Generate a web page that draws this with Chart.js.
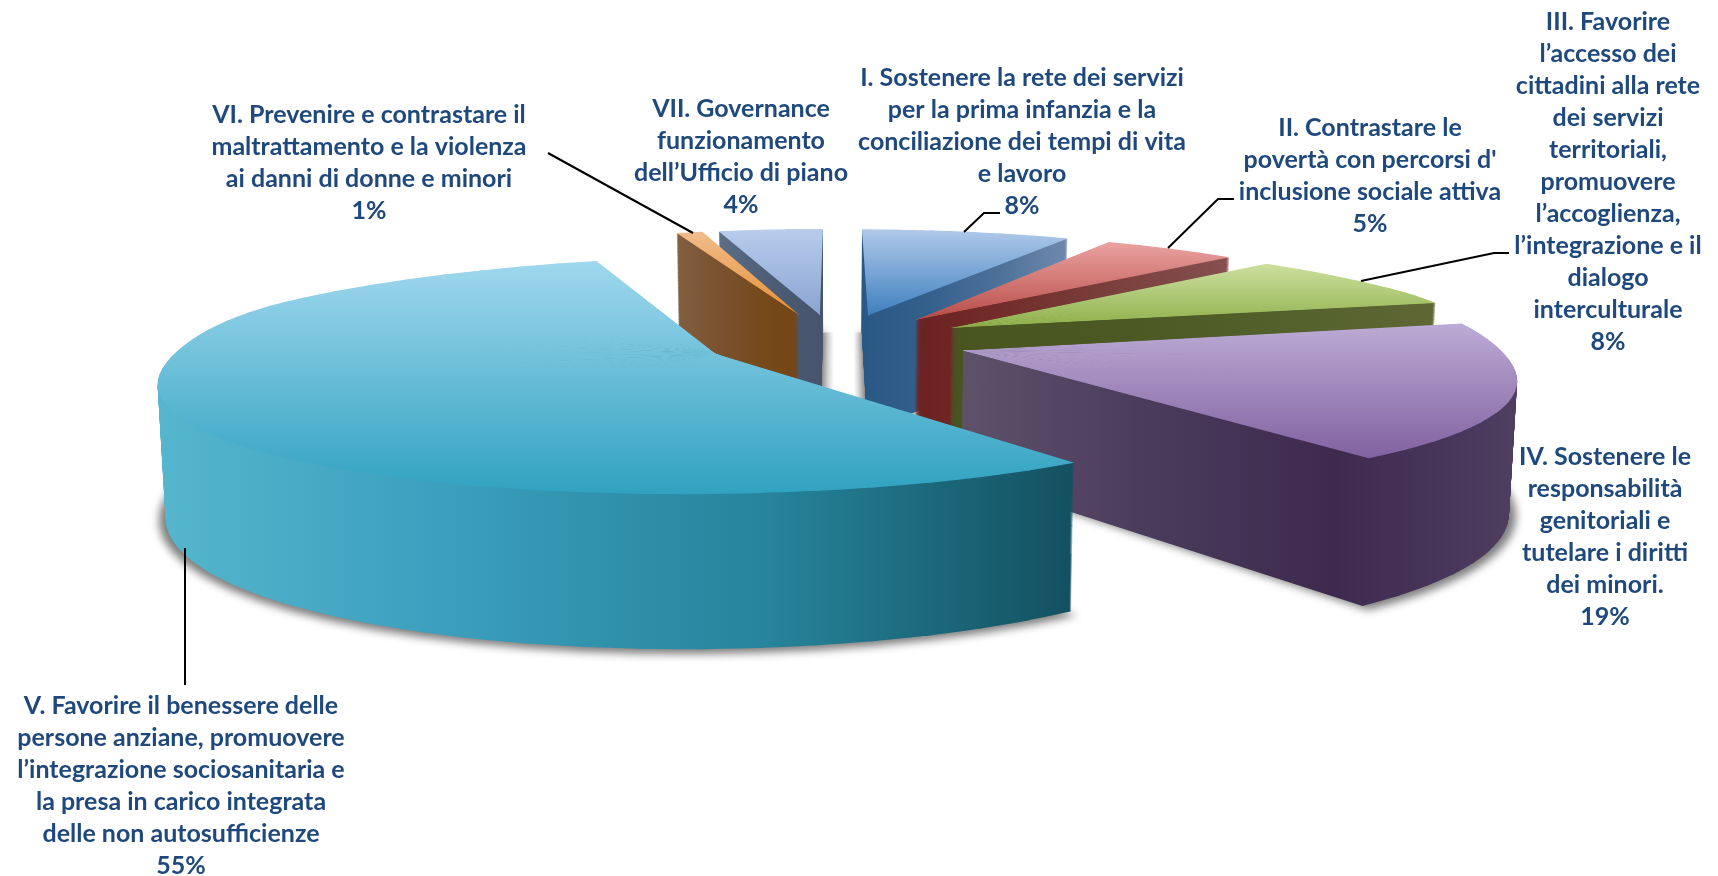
<!DOCTYPE html>
<html>
<head>
<meta charset="utf-8">
<script src="https://cdn.jsdelivr.net/npm/chart.js"></script>
<style>
html, body { margin: 0; padding: 0; background: #fff; }
canvas { display: block; }
</style>
</head>
<body>
<canvas id="c" width="1718" height="876"></canvas>
<script>
const categories = [
  ['I. Sostenere la rete dei servizi', 'per la prima infanzia e la', 'conciliazione dei tempi di vita', 'e lavoro'],
  ['II. Contrastare le', 'povertà con percorsi d\'', 'inclusione sociale attiva'],
  ['III. Favorire', 'l’accesso dei', 'cittadini alla rete', 'dei servizi', 'territoriali,', 'promuovere', 'l’accoglienza,', 'l’integrazione e il', 'dialogo', 'interculturale'],
  ['IV. Sostenere le', 'responsabilità', 'genitoriali e', 'tutelare i diritti', 'dei minori.'],
  ['V. Favorire il benessere delle', 'persone anziane, promuovere', 'l’integrazione sociosanitaria e', 'la presa in carico integrata', 'delle non autosufficienze'],
  ['VI. Prevenire e contrastare il', 'maltrattamento e la violenza', 'ai danni di donne e minori'],
  ['VII. Governance', 'funzionamento', 'dell’Ufficio di piano']
];
const values = [8, 5, 8, 19, 55, 1, 4];

// colori: faccia superiore (alto -> basso) e parete (sinistra -> destra)
const topColors = [
  ['#b0c9ea', '#3f80bf'],
  ['#eaa3a1', '#b94c48'],
  ['#cde0a0', '#8db04a'],
  ['#bdabd5', '#8062a0'],
  ['#a0d8ee', '#30a2c0'],
  ['#f2bc8c', '#e58f33'],
  ['#b8cdec', '#8aa4d2']
];
const wallColors = [
  ['#2a5884', '#34608c', '#4d7199', '#7089ad'],
  ['#6c2120', '#73302c', '#7b423f', '#85504f'],
  ['#485520', '#4b5824', '#52602c', '#5f6735'],
  ['#5e5169', '#4a3b5c', '#3e2a4f', '#4e3e60'],
  ['#55b6cd', '#3a9dbb', '#26849b', '#135060'],
  ['#805f40', '#7a5230', '#764a1c', '#744514'],
  ['#5c6e87', '#52627c', '#4a5972', '#46546c']
];

// posizione etichette: centro x, y prima riga
const labelPos = [[1022, 77.5], [1370, 127.5], [1608, 21.5], [1605, 456.5], [181, 705.5], [369, 114.5], [741, 108.5]];
const lineGap = 32;
const leaders = [
  [[1000, 213], [984, 213], [964, 232]],
  [[1234, 199], [1218, 199], [1168, 248]],
  [[1509, 253], [1494, 253], [1361, 281]],
  [[185, 685], [185, 548]],
  [[548, 153], [693, 233]]
];

// proiezione prospettica del piano della torta
const CX = 836, CY = 341, SX = 526, SY = 110, KX = 0.21, KY = 0.18, DEPTH = 124, SHRINK = 0.012, EXPLODE = 0.25;
const LAYERS = 150;
function proj(x, y, z) {
  // piccolo allargamento sul fianco destro/sinistro dietro, come nell'originale
  const bump = 1 + 0.035 * Math.exp(-Math.pow((y + 0.4) / 0.35, 2));
  return [
    CX + SX * x * bump / ((1 - KX * y) * (1 + SHRINK * z)),
    CY + (SY * y + DEPTH * z) / (1 - KY * y)
  ];
}

function affine(s, t) {
  const u1x = s[1][0] - s[0][0], u1y = s[1][1] - s[0][1], u2x = s[2][0] - s[0][0], u2y = s[2][1] - s[0][1];
  const v1x = t[1][0] - t[0][0], v1y = t[1][1] - t[0][1], v2x = t[2][0] - t[0][0], v2y = t[2][1] - t[0][1];
  const det = u1x * u2y - u2x * u1y;
  const a = (v1x * u2y - v2x * u1y) / det, c = (v2x * u1x - v1x * u2x) / det;
  const b = (v1y * u2y - v2y * u1y) / det, d = (v2y * u1x - v1y * u2x) / det;
  return [a, b, c, d, t[0][0] - a * s[0][0] - c * s[0][1], t[0][1] - b * s[0][0] - d * s[0][1]];
}

// gradiente lineare in coordinate schermo, anche sotto la trasformazione m
function screenGrad(ctx, m, horizontal, v0, v1, colors) {
  const p = horizontal ? m[0] : m[1], q = horizontal ? m[2] : m[3], r = horizontal ? m[4] : m[5];
  const n = p * p + q * q;
  const x0 = (v0 - r) * p / n, y0 = (v0 - r) * q / n;
  const g = ctx.createLinearGradient(x0, y0, x0 + (v1 - v0) * p / n, y0 + (v1 - v0) * q / n);
  colors.forEach((col, i) => g.addColorStop(i / (colors.length - 1), col));
  return g;
}

function sliceInfo(arc) {
  const mid = (arc.startAngle + arc.endAngle) / 2;
  const ex = EXPLODE * Math.cos(mid), ey = EXPLODE * Math.sin(mid);
  const apex = proj(ex, ey, 0);
  const pts = [apex];
  const rim = [];
  for (let i = 0; i <= 40; i++) {
    const a = arc.startAngle + (arc.endAngle - arc.startAngle) * i / 40;
    rim.push([ex + Math.cos(a), ey + Math.sin(a)]);
    pts.push(proj(ex + Math.cos(a), ey + Math.sin(a), 0));
  }
  const xs = pts.map(p => p[0]), ys = pts.map(p => p[1]);
  return { ex, ey, rim, apex, minX: Math.min(...xs), maxX: Math.max(...xs), minY: Math.min(...ys), maxY: Math.max(...ys) };
}

function drawLayer(ctx, arc, info, z, colors, horizontal) {
  const R = arc.outerRadius, step = Math.PI / 36;
  const n = Math.max(1, Math.ceil((arc.endAngle - arc.startAngle) / step));
  const saved = arc.options;
  for (let i = 0; i < n; i++) {
    const b0 = arc.startAngle + (arc.endAngle - arc.startAngle) * i / n;
    const b1 = arc.startAngle + (arc.endAngle - arc.startAngle) * (i + 1) / n;
    const bm = (b0 + b1) / 2;
    const m = affine(
      [[arc.x, arc.y], [arc.x + R * Math.cos(b0), arc.y + R * Math.sin(b0)], [arc.x + R * Math.cos(b1), arc.y + R * Math.sin(b1)]],
      [proj(info.ex, info.ey, z), proj(info.ex + Math.cos(b0), info.ey + Math.sin(b0), z), proj(info.ex + Math.cos(b1), info.ey + Math.sin(b1), z)]
    );
    ctx.save();
    ctx.setTransform(m[0], m[1], m[2], m[3], m[4], m[5]);
    ctx.beginPath();
    // il cuneo parte un po' dietro al centro, cosi' non restano fili vicino all'apice
    ctx.moveTo(arc.x - 0.02 * R * Math.cos(bm), arc.y - 0.02 * R * Math.sin(bm));
    ctx.lineTo(arc.x + 1.2 * R * Math.cos(b0 - 0.006), arc.y + 1.2 * R * Math.sin(b0 - 0.006));
    ctx.lineTo(arc.x + 1.2 * R * Math.cos(b1 + 0.006), arc.y + 1.2 * R * Math.sin(b1 + 0.006));
    ctx.closePath();
    ctx.clip();
    const fill = horizontal
      ? screenGrad(ctx, m, true, info.minX, info.maxX, colors)
      : screenGrad(ctx, m, false, info.minY, info.maxY, colors);
    arc.options = Object.assign({}, saved, { backgroundColor: fill, borderWidth: 0 });
    arc.draw(ctx);
    ctx.restore();
  }
  arc.options = saved;
}

function drawShadow(ctx, info) {
  ctx.save();
  ctx.filter = 'blur(4px)';
  ctx.fillStyle = 'rgba(40,40,40,0.6)';
  ctx.beginPath();
  const c = proj(info.ex, info.ey, 1);
  ctx.moveTo(c[0], c[1]);
  info.rim.forEach(r => {
    const p = proj(info.ex + (r[0] - info.ex) * 1.012, info.ey + (r[1] - info.ey) * 1.012, 1.015);
    ctx.lineTo(p[0], p[1]);
  });
  ctx.closePath();
  ctx.fill();
  ctx.restore();
}

// ombra grigia nella fessura fra la prima e l'ultima fetta
function drawGap(ctx, first, last) {
  const x0 = last.apex[0], x1 = first.apex[0], y0 = first.apex[1] + 17;
  const g = ctx.createLinearGradient(x0, 0, x1, 0);
  g.addColorStop(0, '#a8a8a8');
  g.addColorStop(0.3, '#ffffff');
  g.addColorStop(0.7, '#ffffff');
  g.addColorStop(1, '#a0a0a0');
  ctx.fillStyle = g;
  ctx.fillRect(x0, y0, x1 - x0, 90);
}

const pie3d = {
  id: 'pie3d',
  beforeDatasetDraw(chart, args) {
    const ctx = chart.ctx;
    const arcs = args.meta.data.map((arc, i) => ({ arc, i, info: sliceInfo(arc), mid: (arc.startAngle + arc.endAngle) / 2 }));
    drawGap(ctx, arcs[0].info, arcs[arcs.length - 1].info);
    arcs.sort((p, q) => Math.sin(p.mid) - Math.sin(q.mid)); // prima le fette dietro
    arcs.forEach(s => drawShadow(ctx, s.info));
    arcs.forEach(s => {
      for (let k = LAYERS; k > 0; k--) drawLayer(ctx, s.arc, s.info, k / LAYERS, wallColors[s.i], true);
      drawLayer(ctx, s.arc, s.info, 0, topColors[s.i], false);
    });
    return false;
  },
  afterDatasetsDraw(chart) {
    const ctx = chart.ctx;
    ctx.save();
    ctx.strokeStyle = '#000';
    ctx.lineWidth = 2;
    leaders.forEach(pts => {
      ctx.beginPath();
      pts.forEach((p, i) => i ? ctx.lineTo(p[0], p[1]) : ctx.moveTo(p[0], p[1]));
      ctx.stroke();
    });
    ctx.fillStyle = '#1f497d';
    ctx.font = 'bold 25px Lato';
    ctx.textAlign = 'center';
    ctx.textBaseline = 'middle';
    categories.forEach((lines, i) => {
      const all = lines.concat(values[i] + '%');
      all.forEach((t, j) => ctx.fillText(t, labelPos[i][0], labelPos[i][1] + j * lineGap));
    });
    ctx.restore();
  }
};

new Chart(document.getElementById('c'), {
  type: 'pie',
  data: {
    labels: categories.map(c => c.join(' ')),
    datasets: [{ data: values, backgroundColor: topColors.map(c => c[1]), borderWidth: 0 }]
  },
  options: {
    responsive: false,
    devicePixelRatio: 1,
    animation: false,
    plugins: { legend: { display: false }, tooltip: { enabled: false } }
  },
  plugins: [pie3d]
});
</script>
</body>
</html>
